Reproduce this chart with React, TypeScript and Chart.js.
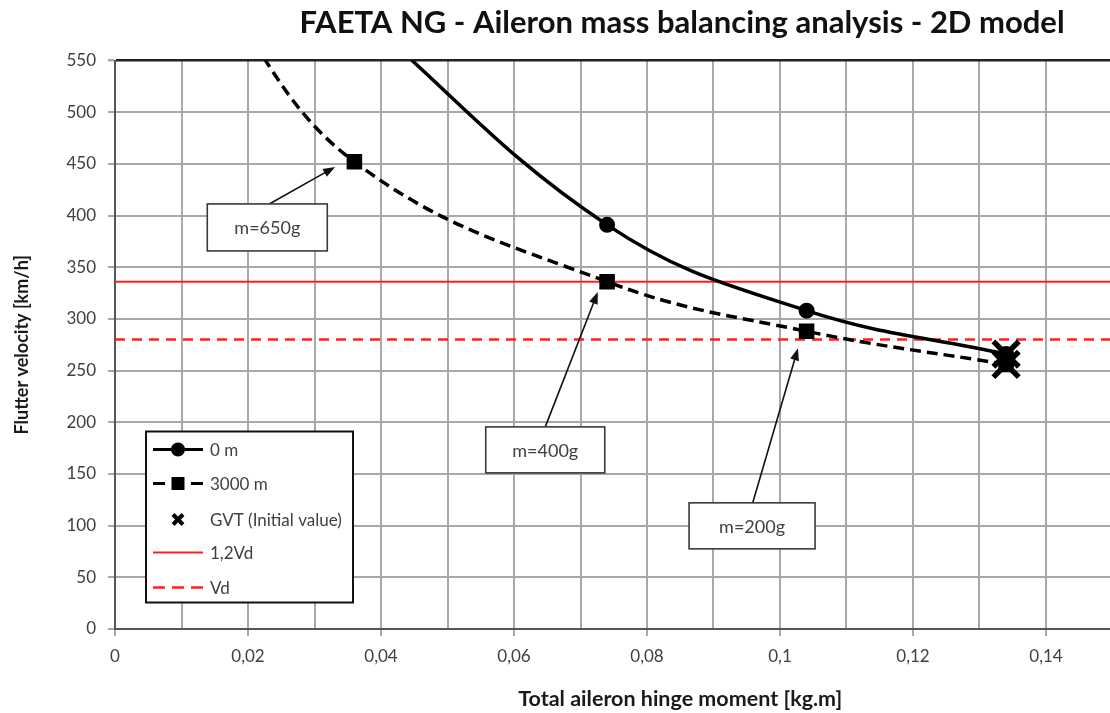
import React, { useEffect, useRef } from 'react';
import { Chart, registerables } from 'chart.js';

Chart.register(...registerables);

// ---------- texts ----------
const titleText = 'FAETA NG - Aileron mass balancing analysis - 2D model';
const xAxisTitle = 'Total aileron hinge moment [kg.m]';
const yAxisTitle = 'Flutter velocity [km/h]';

// ---------- ticks ----------
const xTickValues = [0, 0.01, 0.02, 0.03, 0.04, 0.05, 0.06, 0.07, 0.08, 0.09, 0.1, 0.11, 0.12, 0.13, 0.14, 0.15, 0.16, 0.17];
const xTickLabels = ['0', '', '0,02', '', '0,04', '', '0,06', '', '0,08', '', '0,1', '', '0,12', '', '0,14', '', '0,16', ''];
const yTickValues = [0, 50, 100, 150, 200, 250, 300, 350, 400, 450, 500, 550];

// ---------- series ----------
const seriesLabels = ['0 m', '3000 m', 'GVT (Initial value)', '1,2Vd', 'Vd'];
const x0m = [0.036, 0.074, 0.104, 0.134];
const y0m = [600, 391, 308, 266];
const x3000m = [0.015, 0.036, 0.074, 0.104, 0.134];
const y3000m = [620, 452, 336, 288, 256];
const xGvt = [0.134, 0.134];
const yGvt = [266, 256];
const refLineX = [0, 0.17];
const vd12Values = [336, 336];
const vdValues = [280, 280];

// ---------- annotations ----------
const annotationTexts = ['m=650g', 'm=400g', 'm=200g'];
const annotationBoxX = [0.0229, 0.0647, 0.0958];
const annotationBoxY = [388.5, 173.3, 99.8];
const annotationArrowFromX = [0.0232, 0.0647, 0.0959];
const annotationArrowTipX = [0.0331, 0.0726, 0.1027];
const annotationArrowTipY = [447, 326, 271.5];

const zip = (xs: number[], ys: number[]) => xs.map((x, i) => ({ x, y: ys[i] }));

const FONT = 'Lato, "Open Sans", sans-serif';
const TEXT_GREY = '#404040';
const GRID = '#a8a8a8';

const annotationSizes = [{ w: 120, h: 47 }, { w: 119, h: 46 }, { w: 126, h: 46 }];

function drawArrow(ctx: CanvasRenderingContext2D, x1: number, y1: number, x2: number, y2: number) {
  const ang = Math.atan2(y2 - y1, x2 - x1);
  const L = 12;
  const W = 4.5;
  const c = Math.cos(ang);
  const s = Math.sin(ang);
  ctx.beginPath();
  ctx.moveTo(x1, y1);
  ctx.lineTo(x2 - L * 0.8 * c, y2 - L * 0.8 * s);
  ctx.stroke();
  ctx.beginPath();
  ctx.moveTo(x2, y2);
  ctx.lineTo(x2 - L * c + W * s, y2 - L * s - W * c);
  ctx.lineTo(x2 - L * c - W * s, y2 - L * s + W * c);
  ctx.closePath();
  ctx.fill();
}

const titlePlugin = {
  id: 'chartTitle',
  afterDraw(chart: any) {
    const { ctx } = chart;
    ctx.save();
    ctx.fillStyle = '#111';
    ctx.font = `bold 31px ${FONT}`;
    ctx.textAlign = 'center';
    ctx.textBaseline = 'middle';
    ctx.fillText(titleText, chart.width / 2, 23);
    ctx.restore();
  },
};

const annotationPlugin = {
  id: 'massAnnotations',
  afterDatasetsDraw(chart: any) {
    const { ctx, scales } = chart;
    const xs = scales.x;
    const ys = scales.y;
    ctx.save();
    annotationTexts.forEach((text, i) => {
      const cx = xs.getPixelForValue(annotationBoxX[i]);
      const cy = ys.getPixelForValue(annotationBoxY[i]);
      const { w, h } = annotationSizes[i];
      const left = cx - w / 2;
      const top = cy - h / 2;
      ctx.strokeStyle = '#111';
      ctx.fillStyle = '#111';
      ctx.lineWidth = 1.6;
      drawArrow(
        ctx,
        xs.getPixelForValue(annotationArrowFromX[i]),
        top,
        xs.getPixelForValue(annotationArrowTipX[i]),
        ys.getPixelForValue(annotationArrowTipY[i])
      );
      ctx.fillStyle = '#ffffff';
      ctx.fillRect(left, top, w, h);
      ctx.strokeStyle = '#3a3a3a';
      ctx.lineWidth = 1.6;
      ctx.strokeRect(left, top, w, h);
      ctx.fillStyle = TEXT_GREY;
      ctx.font = `18px ${FONT}`;
      ctx.textAlign = 'center';
      ctx.textBaseline = 'middle';
      ctx.fillText(text, cx, cy + 1);
    });
    ctx.restore();
  },
};

const legendPlugin = {
  id: 'insideLegend',
  afterDraw(chart: any) {
    const { ctx, chartArea } = chart;
    const left = chartArea.left + 31;
    const top = chartArea.top + 371;
    const w = 207;
    const h = 171;
    ctx.save();
    ctx.fillStyle = '#ffffff';
    ctx.fillRect(left, top, w, h);
    ctx.strokeStyle = '#111';
    ctx.lineWidth = 2;
    ctx.strokeRect(left, top, w, h);

    const rowYs = [18, 52, 88, 121, 156];
    const sx1 = left + 7;
    const sx2 = left + 57;
    const mx = left + 32;
    chart.data.datasets.forEach((ds: any, i: number) => {
      const y = top + rowYs[i];
      ctx.strokeStyle = ds.borderColor;
      ctx.fillStyle = ds.borderColor;
      if (ds.showLine !== false) {
        ctx.lineWidth = Math.min(ds.borderWidth, 3);
        ctx.setLineDash(ds.legendDash || []);
        ctx.beginPath();
        ctx.moveTo(sx1, y);
        ctx.lineTo(sx2, y);
        ctx.stroke();
        ctx.setLineDash([]);
      }
      if (ds.pointStyle === 'circle' && ds.pointRadius > 0) {
        ctx.beginPath();
        ctx.arc(mx, y, 7, 0, Math.PI * 2);
        ctx.fill();
      } else if (ds.pointStyle === 'rect' && ds.pointRadius > 0) {
        ctx.fillRect(mx - 6.5, y - 6.5, 13, 13);
      } else if (ds.pointStyle === 'crossRot') {
        ctx.lineWidth = 4;
        ctx.beginPath();
        ctx.moveTo(mx - 5, y - 5);
        ctx.lineTo(mx + 5, y + 5);
        ctx.moveTo(mx + 5, y - 5);
        ctx.lineTo(mx - 5, y + 5);
        ctx.stroke();
      }
      ctx.fillStyle = TEXT_GREY;
      ctx.font = `17px ${FONT}`;
      ctx.textAlign = 'left';
      ctx.textBaseline = 'middle';
      ctx.fillText(ds.label, left + 64, y + 1);
    });
    ctx.restore();
  },
};

export default function App() {
  const canvasRef = useRef<HTMLCanvasElement | null>(null);

  useEffect(() => {
    if (!canvasRef.current) return;
    const chart = new Chart(canvasRef.current, {
      type: 'scatter',
      data: {
        datasets: [
          {
            label: seriesLabels[0],
            data: zip(x0m, y0m),
            showLine: true,
            borderColor: '#000000',
            backgroundColor: '#000000',
            borderWidth: 3.5,
            tension: 0.4,
            pointStyle: 'circle',
            pointRadius: 8,
            pointBorderWidth: 0,
            order: 0,
          } as any,
          {
            label: seriesLabels[1],
            data: zip(x3000m, y3000m),
            showLine: true,
            borderColor: '#000000',
            backgroundColor: '#000000',
            borderWidth: 3.5,
            borderDash: [11, 6],
            legendDash: [12, 26],
            tension: 0.4,
            pointStyle: 'rect',
            pointRadius: 11,
            pointBorderWidth: 0,
            order: 0,
          } as any,
          {
            label: seriesLabels[2],
            data: zip(xGvt, yGvt),
            showLine: false,
            borderColor: '#000000',
            backgroundColor: '#000000',
            pointStyle: 'crossRot',
            pointRadius: 18,
            pointBorderWidth: 5.5,
            order: -1,
          } as any,
          {
            label: seriesLabels[3],
            data: zip(refLineX, vd12Values),
            showLine: true,
            borderColor: '#ff1f1f',
            backgroundColor: '#ff1f1f',
            borderWidth: 2,
            pointRadius: 0,
            order: 1,
          } as any,
          {
            label: seriesLabels[4],
            data: zip(refLineX, vdValues),
            showLine: true,
            borderColor: '#ff1f1f',
            backgroundColor: '#ff1f1f',
            borderWidth: 2.5,
            borderDash: [10, 7],
            legendDash: [12, 7],
            pointRadius: 0,
            order: 1,
          } as any,
        ],
      },
      options: {
        responsive: false,
        animation: false,
        devicePixelRatio: 1,
        elements: { line: { capBezierPoints: false } },
        layout: { padding: { left: 0, top: 60.5, right: 118.5, bottom: 0 } },
        plugins: {
          legend: { display: false },
          tooltip: { enabled: false },
          title: { display: false },
        },
        scales: {
          x: {
            type: 'linear',
            min: 0,
            max: 0.17,
            afterBuildTicks: (scale: any) => {
              scale.ticks = xTickValues.map((v) => ({ value: v }));
            },
            afterFit: (scale: any) => {
              scale.height = 84;
            },
            ticks: {
              autoSkip: false,
              maxRotation: 0,
              padding: 10,
              color: TEXT_GREY,
              font: { family: FONT, size: 17 },
              callback: (_v: any, i: number) => xTickLabels[i],
            },
            grid: {
              color: GRID,
              lineWidth: 2,
              tickLength: 7,
              tickColor: (ctx: any) => (xTickLabels[ctx.index] ? GRID : 'rgba(0,0,0,0)'),
            },
            border: { color: '#555', width: 2 },
            title: {
              display: true,
              text: xAxisTitle,
              color: '#1a1a1a',
              font: { family: FONT, size: 21.5, weight: 'bold', lineHeight: 1.2 },
              padding: { top: 0, bottom: 1 },
            },
          },
          y: {
            type: 'linear',
            min: 0,
            max: 550,
            afterBuildTicks: (scale: any) => {
              scale.ticks = yTickValues.map((v) => ({ value: v }));
            },
            afterFit: (scale: any) => {
              scale.width = 115;
            },
            ticks: {
              padding: 12,
              color: TEXT_GREY,
              font: { family: FONT, size: 17 },
            },
            grid: {
              color: (ctx: any) => (ctx.tick && ctx.tick.value === 550 ? '#222' : GRID),
              lineWidth: (ctx: any) => (ctx.tick && ctx.tick.value === 550 ? 2.5 : 2),
              tickLength: 7,
              tickColor: GRID,
            },
            border: { color: '#555', width: 2 },
            title: {
              display: true,
              text: yAxisTitle,
              color: '#1a1a1a',
              font: { family: FONT, size: 18, weight: 'bold', lineHeight: 1.2 },
              padding: { top: 11, bottom: 0 },
            },
          },
        },
      } as any,
      plugins: [titlePlugin, annotationPlugin, legendPlugin],
    });
    return () => chart.destroy();
  }, []);

  return (
    <div
      style={{
        position: 'fixed',
        left: 0,
        top: 0,
        width: 1110,
        height: 713,
        overflow: 'hidden',
        background: '#ffffff',
      }}
    >
      <canvas ref={canvasRef} width={1364} height={713} style={{ display: 'block', width: 1364, height: 713 }} />
    </div>
  );
}
